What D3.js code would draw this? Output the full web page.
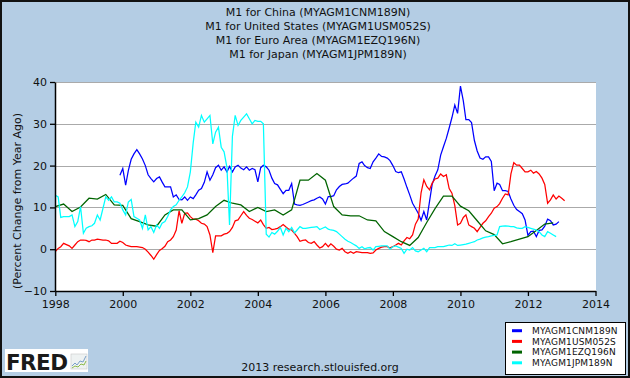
<!DOCTYPE html>
<html><head><meta charset="utf-8">
<script src="https://cdn.jsdelivr.net/npm/d3@7"></script>
<style>
html,body{margin:0;padding:0;background:#b4cde4;}
svg{display:block;font-family:"DejaVu Sans",Verdana,sans-serif;}
</style>
</head><body>
<svg id="chart" width="630" height="378"></svg>
<script>
// ---------------- DATA ----------------
const titleLines = [
  "M1 for China (MYAGM1CNM189N)",
  "M1 for United States (MYAGM1USM052S)",
  "M1 for Euro Area (MYAGM1EZQ196N)",
  "M1 for Japan (MYAGM1JPM189N)"
];
const yAxisLabel = "(Percent Change from Year Ago)";
const footerText = "2013 research.stlouisfed.org";
const seriesIds = ["MYAGM1CNM189N", "MYAGM1USM052S", "MYAGM1EZQ196N", "MYAGM1JPM189N"];
const yTickValues = [-10, 0, 10, 20, 30, 40];
const xTickYears = [1998, 2000, 2002, 2004, 2006, 2008, 2010, 2012, 2014];

// China M1, monthly, first value Dec 1999
const chinaStart = [1999, 11];
const chinaValues = [17.7,
  19.3,15.3,18.8,21.5,22.8,23.8,22.8,21.6,20.0,17.8,16.9,16.1,
  16.9,17.3,16.1,14.9,14.9,14.9,12.5,13.0,11.9,11.8,12.5,11.7,
  12.5,12.1,13.0,14.1,14.5,16.0,18.5,16.5,17.8,19.5,20.1,18.9,
  19.7,18.5,19.8,18.5,19.7,20.1,19.4,19.0,19.7,18.9,19.3,19.0,
  16.1,19.5,20.1,19.7,18.9,17.0,15.7,15.4,14.3,13.3,14.1,14.1,
  15.7,10.8,10.6,10.5,10.7,11.0,11.3,11.6,11.8,12.2,12.5,12.0,
  10.8,12.6,12.6,12.8,14.2,15.0,15.5,15.6,15.8,16.4,17.0,17.5,
  20.5,20.9,20.0,19.5,19.3,20.9,21.8,22.8,22.2,22.1,21.8,21.2,
  20.0,18.6,18.3,18.5,16.8,14.8,13.0,11.0,9.8,8.6,6.9,9.0,
  7.0,11.5,15.5,17.5,19.0,22.5,24.5,26.5,29.0,31.5,34.5,32.5,
  39.0,35.5,31.0,31.0,30.3,26.0,23.5,21.8,21.5,22.1,22.1,21.0,
  14.0,15.8,15.5,14.0,14.0,13.8,12.0,10.5,9.5,9.0,8.5,7.0,
  3.3,4.2,4.3,3.0,4.5,4.6,5.5,7.2,6.8,5.8,6.0,6.6];

// United States M1, monthly, first value Jan 1998
const usStart = [1998, 0];
const usValues = [
  -0.6,0.2,0.6,1.4,1.1,0.8,0.2,1.0,1.8,2.2,2.2,2.1,
  1.8,2.2,2.2,2.4,2.3,2.2,2.2,2.0,1.4,1.4,1.4,1.9,
  1.6,1.0,0.8,0.6,0.6,0.6,0.5,0.4,0.0,-0.7,-1.5,-2.4,
  -1.3,-0.3,0.1,0.7,1.8,2.2,3.0,4.6,9.2,6.2,8.6,8.7,
  7.8,7.2,7.2,6.8,6.2,6.0,5.4,3.4,-0.8,3.2,3.2,3.2,
  3.6,3.8,4.2,5.2,6.8,7.0,8.0,9.0,8.1,7.4,7.1,6.7,
  6.3,7.0,5.9,5.0,5.2,4.7,4.8,5.0,5.4,5.9,5.3,4.8,
  4.6,3.8,3.0,1.9,2.1,2.2,1.6,1.4,1.8,1.0,0.3,0.6,
  1.4,0.6,1.3,0.7,0.0,-0.2,0.2,-0.6,-1.0,-0.6,-1.0,-0.6,
  -0.7,-0.8,-0.8,-0.8,-1.0,-0.9,-0.2,0.2,0.5,0.6,0.6,0.3,
  0.6,1.0,1.4,1.0,2.0,2.8,2.5,3.4,6.0,7.2,13.5,16.6,
  15.0,14.2,15.8,16.8,17.0,18.0,17.4,17.8,14.5,13.4,10.4,5.8,
  6.2,7.6,8.2,5.8,5.4,5.0,4.2,5.2,6.2,6.8,7.8,8.6,
  9.8,10.2,10.9,12.2,13.2,13.0,18.0,20.7,20.1,20.1,19.3,18.5,
  18.5,18.9,18.2,18.6,18.0,17.0,15.5,11.0,11.8,13.0,12.0,12.7,
  12.2,11.6];

// Euro Area M1, quarterly, first value 1998 Q1
const euroStart = [1998, 0];
const euroValues = [
  10.2,10.8,9.0,10.1,
  12.2,12.0,13.1,10.6,
  10.5,7.3,6.6,5.8,
  5.5,8.2,9.4,9.4,
  7.0,7.3,8.2,10.2,
  11.7,11.0,10.6,9.0,
  10.0,9.0,9.4,8.2,
  9.4,16.5,16.5,18.1,
  16.5,10.2,8.2,8.0,
  8.0,7.0,6.8,4.2,
  3.0,1.8,0.9,2.8,
  6.4,9.7,12.7,12.7,
  10.3,9.2,6.8,4.4,
  3.5,1.3,1.8,2.4,
  3.0,4.5,6.0,6.3];

// Japan M1, monthly, first value Jan 1998
const japanStart = [1998, 0];
const japanValues = [
  12.9,12.5,7.6,7.8,7.8,7.8,8.2,5.4,6.6,10.2,3.8,5.0,
  5.4,5.6,6.2,8.2,7.0,9.8,12.5,11.7,12.5,11.3,11.3,11.0,
  9.4,8.2,11.3,11.9,7.8,7.4,7.0,5.0,8.2,4.6,5.4,4.0,
  5.8,5.0,6.2,6.6,7.8,9.4,10.2,10.6,11.7,12.5,13.5,14.9,
  18.5,25.5,30.4,29.2,32.0,30.4,31.2,32.0,25.2,28.0,29.2,24.4,
  23.3,19.5,5.8,27.0,32.0,29.6,30.8,31.6,32.4,31.2,30.0,30.8,
  30.6,30.6,30.0,3.6,2.9,4.0,3.6,4.3,5.2,3.4,5.0,4.2,
  5.2,3.9,4.6,5.4,5.0,5.0,5.1,5.2,5.3,5.4,4.7,5.0,
  5.3,4.8,4.6,4.5,4.2,3.6,3.0,2.4,1.9,1.6,1.2,0.8,
  0.2,0.6,0.1,0.3,0.4,-0.2,0.6,0.7,0.8,0.8,0.8,0.0,
  0.6,0.8,0.5,0.2,-1.0,0.0,-0.2,0.4,-0.4,-0.6,-0.2,0.2,
  -0.6,0.4,0.4,0.4,0.6,0.6,0.6,0.8,1.0,0.9,1.3,0.9,
  1.0,1.1,1.2,1.4,1.6,1.8,2.2,2.4,2.7,2.9,3.0,3.2,
  3.3,3.4,5.4,5.5,5.6,5.5,5.4,5.4,5.1,5.0,5.0,5.4,
  5.2,5.0,4.8,4.6,4.2,3.4,3.0,4.2,3.8,3.4,3.0];

// ---------------- STYLE ----------------
const seriesColors = ["#0000ff", "#ff0000", "#006400", "#00ffff"];

// ---------------- BUILD ----------------
function buildSeries(start, values, stepMonths) {
  const d0 = new Date(start[0], start[1], 1);
  return values.map((v, i) => ({ date: d3.timeMonth.offset(d0, i * stepMonths), value: v }));
}
const series = [
  { id: seriesIds[0], color: seriesColors[0], data: buildSeries(chinaStart, chinaValues, 1) },
  { id: seriesIds[1], color: seriesColors[1], data: buildSeries(usStart, usValues, 1) },
  { id: seriesIds[2], color: seriesColors[2], data: buildSeries(euroStart, euroValues, 3) },
  { id: seriesIds[3], color: seriesColors[3], data: buildSeries(japanStart, japanValues, 1) }
];

const svg = d3.select("#chart");
const W = 630, H = 378;
const plot = { left: 55, right: 596, top: 82, bottom: 291 };

svg.append("rect").attr("x", 1).attr("y", 1).attr("width", W - 2).attr("height", H - 2)
  .attr("fill", "#b4cde4").attr("stroke", "#111").attr("stroke-width", 2);

const x = d3.scaleTime()
  .domain([new Date(xTickYears[0], 0, 1), new Date(xTickYears[xTickYears.length - 1], 0, 1)])
  .range([plot.left + 0.3, plot.right - 0.5]);
const y = d3.scaleLinear().domain([yTickValues[0], yTickValues[yTickValues.length - 1]])
  .range([plot.bottom, plot.top]);

// plot background
svg.append("rect").attr("x", plot.left).attr("y", plot.top)
  .attr("width", plot.right - plot.left).attr("height", plot.bottom - plot.top)
  .attr("fill", "#ffffff");

// grid
svg.append("g").selectAll("line").data(yTickValues.filter(v => v > yTickValues[0]))
  .join("line")
  .attr("x1", plot.left).attr("x2", plot.right)
  .attr("y1", d => Math.round(y(d)) + 0.5).attr("y2", d => Math.round(y(d)) + 0.5)
  .attr("stroke", "#aaaaaa").attr("stroke-width", 1);

// series lines
const line = d3.line().x(d => x(d.date)).y(d => y(d.value));
svg.append("g").selectAll("path").data(series).join("path")
  .attr("d", d => line(d.data))
  .attr("fill", "none")
  .attr("stroke", d => d.color)
  .attr("stroke-width", 1.25)
  .attr("stroke-linejoin", "miter");

// axes
const xAxis = d3.axisBottom(x)
  .tickValues(xTickYears.map(yr => new Date(yr, 0, 1)))
  .tickFormat(d3.timeFormat("%Y"))
  .tickSizeInner(5).tickSizeOuter(0).tickPadding(4);
const gx = svg.append("g").attr("transform", `translate(0,${plot.bottom})`).call(xAxis);
gx.select(".domain").attr("stroke", "#000").attr("stroke-width", 1.5);
gx.selectAll(".tick line").attr("stroke", "#000").attr("stroke-width", 1.3);
gx.selectAll(".tick text").attr("font-size", 11).attr("fill", "#111")
  .attr("font-family", "'DejaVu Sans', Verdana, sans-serif");

const yAxis = d3.axisLeft(y).tickValues(yTickValues).tickFormat(d3.format("d"))
  .tickSizeInner(5).tickSizeOuter(0).tickPadding(3);
const gy = svg.append("g").attr("transform", `translate(${plot.left},0)`).call(yAxis);
gy.select(".domain").attr("stroke", "#000").attr("stroke-width", 1.5);
gy.selectAll(".tick line").attr("stroke", "#000").attr("stroke-width", 1.3);
gy.selectAll(".tick text").attr("font-size", 11).attr("fill", "#111")
  .attr("font-family", "'DejaVu Sans', Verdana, sans-serif");

// titles
svg.append("g").selectAll("text").data(titleLines).join("text")
  .attr("x", 318).attr("y", (d, i) => 15.5 + i * 14)
  .attr("text-anchor", "middle").attr("font-size", 11).attr("fill", "#111")
  .text(d => d);

// y label
svg.append("text")
  .attr("transform", "translate(21,201) rotate(-90)")
  .attr("text-anchor", "middle").attr("font-size", 11).attr("fill", "#111")
  .text(yAxisLabel);

// footer
svg.append("text").attr("x", 320).attr("y", 371)
  .attr("text-anchor", "middle").attr("font-size", 11).attr("fill", "#111")
  .text(footerText);

// legend
const lg = svg.append("g");
lg.append("rect").attr("x", 505.5).attr("y", 322.5).attr("width", 120).attr("height", 52)
  .attr("fill", "#fff").attr("stroke", "#000").attr("stroke-width", 1);
const rows = lg.selectAll("g.row").data(series).join("g").attr("class", "row")
  .attr("transform", (d, i) => `translate(0,${330.7 + i * 10.7})`);
rows.append("line").attr("x1", 512).attr("x2", 522).attr("y1", 0).attr("y2", 0)
  .attr("stroke", d => d.color).attr("stroke-width", 3);
rows.append("text").attr("x", 532).attr("y", 3.3)
  .attr("font-size", 9).attr("letter-spacing", 0.15).attr("fill", "#111")
  .text(d => d.id);

// FRED logo
const logo = svg.append("g");
logo.append("rect").attr("x", 5).attr("y", 349).attr("width", 83).attr("height", 23).attr("fill", "#fff");
logo.append("text").attr("x", 6).attr("y", 369.5).attr("font-size", 21.5).attr("font-weight", "bold")
  .attr("fill", "#1a1a1a").attr("letter-spacing", -0.6).text("FRED");
logo.append("rect").attr("x", 71).attr("y", 354).attr("width", 16).attr("height", 15)
  .attr("fill", "#eef2f2").attr("stroke", "#c8c8c8").attr("stroke-width", 0.6);
logo.append("polyline").attr("points", "72,366 75,363 77,365 80,361 83,362 86,356")
  .attr("fill", "none").attr("stroke", "#7aa0c8").attr("stroke-width", 1);
logo.append("polyline").attr("points", "72,368 75,366 78,367 81,364 84,365 86,361")
  .attr("fill", "none").attr("stroke", "#8dbb4a").attr("stroke-width", 1);
</script>
</body></html>
